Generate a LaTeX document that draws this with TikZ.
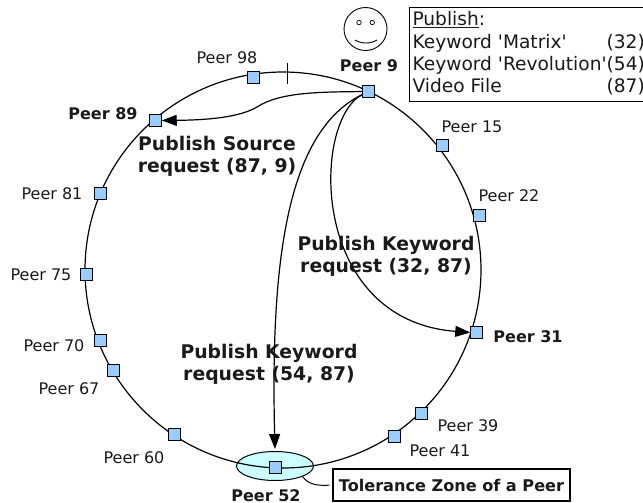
\documentclass[tikz,border=0pt]{standalone}
\usepackage{fontspec}
\setmainfont{DejaVu Sans}
\usetikzlibrary{arrows.meta,shapes.geometric}
\definecolor{peerblue}{HTML}{99CCFF}
\definecolor{zonecyan}{HTML}{CCFFFF}
\definecolor{inkgray}{HTML}{1A1A1A}
\tikzset{
  peer/.style={draw=black,fill=peerblue,line width=1pt,minimum size=11.5pt,inner sep=0pt,xshift=0.5pt,yshift=-0.5pt},
  peerlabel/.style={text=inkgray,font=\fontsize{16}{19}\selectfont,inner sep=0pt,yshift=-0.7pt},
  boldlabel/.style={text=inkgray,font=\fontsize{16}{19}\selectfont\bfseries,inner sep=0pt,yshift=-0.7pt},
  reqlabel/.style={text=inkgray,font=\fontsize{18.8}{22}\selectfont\bfseries,align=center,inner sep=0pt},
  route/.style={line width=1.2pt,-{Triangle[length=15pt,width=11pt]}}
}
\begin{document}
\begin{tikzpicture}[x=1pt,y=-1pt]
\useasboundingbox (0,0) rectangle (643,503);
% tolerance zone
\node[ellipse,draw=black,fill=zonecyan,line width=1pt,minimum width=77pt,minimum height=29pt,inner sep=0pt] (zone) at (275,466) {};
\draw[line width=1.2pt] (283,270) circle (198);
\draw[line width=0.9pt] (287,63) -- (287,84);
% peers
\foreach \name/\px/\py in {
  p9/368/91, p98/253/77, p89/155/120, p81/100/193, p75/86/274,
  p70/100/340, p67/113/370, p60/174/434, p52/275/467, p41/394/436,
  p39/421/413, p31/476/332, p22/479/215, p15/442/145
}{ \node[peer] (\name) at (\px,\py) {}; }
% labels
\node[peerlabel] (l98) at (227,57) {Peer 98};
\node[peerlabel] (l15) at (472,126) {Peer 15};
\node[peerlabel] (l22) at (509,195) {Peer 22};
\node[peerlabel] (l81) at (52,193) {Peer 81};
\node[peerlabel] (l75) at (41,274) {Peer 75};
\node[peerlabel] (l70) at (54,345) {Peer 70};
\node[peerlabel] (l67) at (69,388) {Peer 67};
\node[peerlabel] (l60) at (134,457) {Peer 60};
\node[peerlabel] (l39) at (468,425) {Peer 39};
\node[peerlabel] (l41) at (440,450) {Peer 41};
\node[boldlabel] (l9) at (369,65) {Peer 9};
\node[boldlabel] (l89) at (103,113) {Peer 89};
\node[boldlabel] (l31) at (528,336) {Peer 31};
\node[boldlabel] (l52) at (266,495) {Peer 52};
% routes
\draw[route] (p9) .. controls (320,92) and (280,92) .. (257,107) .. controls (240,117) and (210,120) .. (p89.east);
\draw[route] (p9) .. controls (290,130) and (270,250) .. ([yshift=2pt]zone.north);
\draw[route] (p9) .. controls (312,120) and (308,320) .. (p31.west);
\node[reqlabel] (r1) at (217,156) {Publish Source\\request (87, 9)};
\node[reqlabel] (r2) at (386,256) {Publish Keyword\\request (32, 87)};
\node[reqlabel] (r3) at (269,364.5) {Publish Keyword\\request (54, 87)};
% smiley
\node[circle,draw=black,line width=0.9pt,minimum size=43pt,inner sep=0pt] (face) at (365.5,29) {};
\node[circle,draw=black,line width=0.7pt,minimum size=4.5pt,inner sep=0pt] (eyeL) at (359,22.5) {};
\node[circle,draw=black,line width=0.7pt,minimum size=4.5pt,inner sep=0pt] (eyeR) at (372.3,22.5) {};
\draw[line width=0.9pt] (355,40) .. controls (361,44) and (371,44) .. (377,40);
% boxes
\node[draw=black,fill=white,line width=1.1pt,anchor=north west,inner xsep=3pt,inner ysep=2.2pt,text=inkgray,font=\fontsize{18.6}{22}\selectfont] (pub) at (409,7)
  {\setlength{\tabcolsep}{0pt}\renewcommand{\arraystretch}{1}\begin{tabular}{@{}ll@{}}
   \underline{Publish}: & \\[1.6pt] Keyword \textquotesingle Matrix\textquotesingle & (32)\\ Keyword \textquotesingle Revolution\textquotesingle & (54)\\ Video File & (87)
   \end{tabular}};
\node[draw=black,fill=white,line width=1.1pt,minimum width=237pt,minimum height=32pt,inner sep=0pt,text=inkgray,font=\fontsize{16.1}{19}\selectfont\bfseries] (tol) at (451.5,485) {Tolerance Zone of a Peer};
\draw[line width=1pt,shorten >=3pt] (zone.-21) .. controls (308,484) and (316,486) .. (tol.west);
\end{tikzpicture}
\end{document}
